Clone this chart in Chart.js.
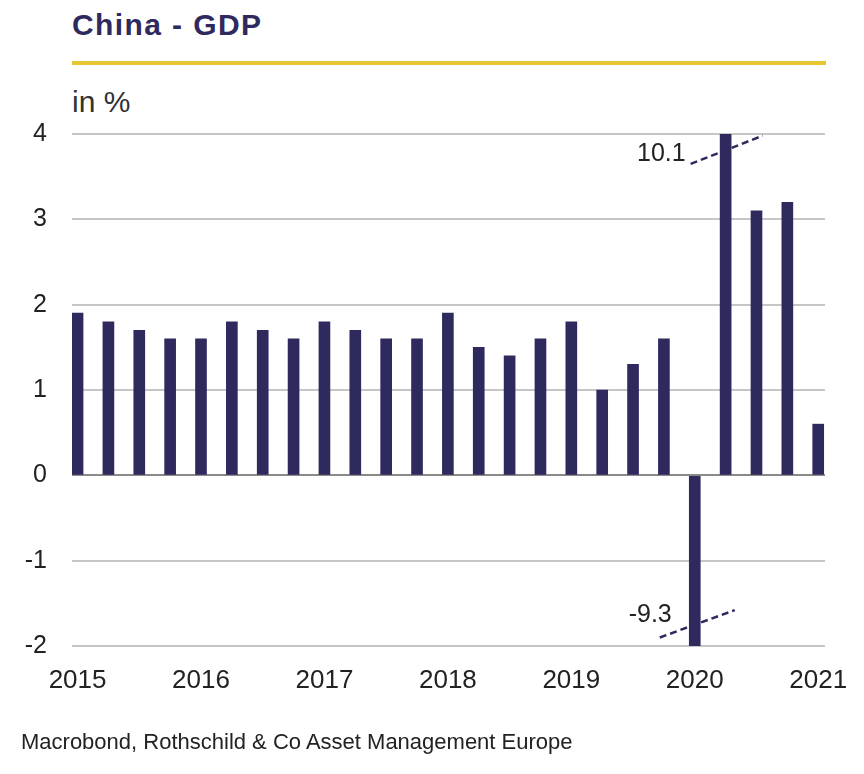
<!DOCTYPE html>
<html>
<head>
<meta charset="utf-8">
<script src="https://cdn.jsdelivr.net/npm/chart.js@4.4.0/dist/chart.umd.min.js"></script>
<style>
  html, body { margin: 0; padding: 0; background: #fff; }
  body { width: 864px; height: 774px; position: relative; overflow: hidden;
         font-family: "Liberation Sans", Arial, sans-serif; }
  #title { position: absolute; left: 72px; top: 10px; font-size: 30px; line-height: 30px;
           font-weight: bold; color: #2e2a5e; letter-spacing: 1.4px; }
  #rule { position: absolute; left: 72px; top: 61px; width: 754px; height: 4px; background: #e6c531; }
  #unit { position: absolute; left: 72px; top: 87px; font-size: 30px; line-height: 30px; color: #333; }
  #source { position: absolute; left: 21px; top: 731px; font-size: 22px; line-height: 22px; color: #222; }
  #chart { position: absolute; left: 0; top: 0; }
</style>
</head>
<body>
<div id="title">China - GDP</div>
<div id="rule"></div>
<div id="unit">in %</div>
<canvas id="chart" width="864" height="774"></canvas>
<div id="source">Macrobond, Rothschild &amp; Co Asset Management Europe</div>
<script>
  // ==== data ====
  const quarters = [
    "2015Q1", "2015Q2", "2015Q3", "2015Q4",
    "2016Q1", "2016Q2", "2016Q3", "2016Q4",
    "2017Q1", "2017Q2", "2017Q3", "2017Q4",
    "2018Q1", "2018Q2", "2018Q3", "2018Q4",
    "2019Q1", "2019Q2", "2019Q3", "2019Q4",
    "2020Q1", "2020Q2", "2020Q3", "2020Q4",
    "2021Q1"
  ];
  const gdpQoQ = [
    1.9, 1.8, 1.7, 1.6,
    1.6, 1.8, 1.7, 1.6,
    1.8, 1.7, 1.6, 1.6,
    1.9, 1.5, 1.4, 1.6,
    1.8, 1.0, 1.3, 1.6,
    -9.3, 10.1, 3.1, 3.2,
    0.6
  ];
  const yearLabels = ["2015", "2016", "2017", "2018", "2019", "2020", "2021"];
  const yTicks = [-2, -1, 0, 1, 2, 3, 4];

  const NAVY = "#2e2a5e";
  const FONT = "'Liberation Sans', Arial, sans-serif";

  // bars that run off the axis get a dashed break + their value
  const breakMarks = {
    id: "breakMarks",
    afterDatasetsDraw(chart) {
      const { ctx, scales: { x, y } } = chart;
      const yMin = yTicks[0], yMax = yTicks[yTicks.length - 1];
      ctx.save();
      gdpQoQ.forEach((v, i) => {
        if (v <= yMax && v >= yMin) return;
        const bx = x.getPixelForValue(i);
        const top = v > yMax;
        const y1 = y.getPixelForValue(top ? 3.65 : -1.9);
        const y2 = y.getPixelForValue(top ? 3.98 : -1.58);
        ctx.strokeStyle = NAVY;
        ctx.lineWidth = 2.5;
        ctx.setLineDash([7, 4]);
        ctx.beginPath();
        ctx.moveTo(bx - 35, y1);
        ctx.lineTo(bx + (top ? 37 : 40), y2);
        ctx.stroke();
        ctx.setLineDash([]);
        ctx.fillStyle = "#222";
        ctx.font = "25px " + FONT;
        ctx.textAlign = "right";
        ctx.textBaseline = "middle";
        ctx.fillText(v.toFixed(1), bx - (top ? 40 : 23), y.getPixelForValue(top ? 3.77 : -1.64));
      });
      ctx.restore();
    }
  };

  new Chart(document.getElementById("chart"), {
    type: "bar",
    data: {
      datasets: [{
        label: "China GDP",
        data: gdpQoQ.map((v, i) => ({ x: i, y: v })),
        backgroundColor: NAVY,
        borderWidth: 0,
        barThickness: 11
      }]
    },
    options: {
      responsive: false,
      animation: false,
      layout: { padding: { top: 134, right: 39, left: 0, bottom: 0 } },
      plugins: { legend: { display: false }, tooltip: { enabled: false } },
      scales: {
        x: {
          type: "linear",
          offset: false,
          min: -0.18, max: 24.22,
          grid: { display: false, drawTicks: false },
          border: { display: false },
          ticks: {
            stepSize: 4,
            includeBounds: false,
            padding: 19,
            color: "#222",
            font: { size: 26, family: FONT },
            maxRotation: 0,
            autoSkip: false,
            callback: (v) => yearLabels[v / 4] ?? ""
          },
          // let the 2021 label hang past the plot edge like the original
          afterFit: (s) => { s.height = 128; s.paddingRight = 0; s.paddingLeft = 0; }
        },
        y: {
          min: yTicks[0], max: yTicks[yTicks.length - 1],
          afterBuildTicks: (s) => { s.ticks = yTicks.map(v => ({ value: v })); },
          grid: {
            drawTicks: false,
            color: (c) => c.tick && c.tick.value === 0 ? "#8a8a8a" : "#c6c6c6",
            lineWidth: 2
          },
          border: { display: false },
          ticks: {
            padding: 25,
            color: "#222",
            font: { size: 25, family: FONT }
          },
          afterFit: (s) => { s.width = 72; }
        }
      }
    },
    plugins: [breakMarks]
  });
</script>
</body>
</html>
